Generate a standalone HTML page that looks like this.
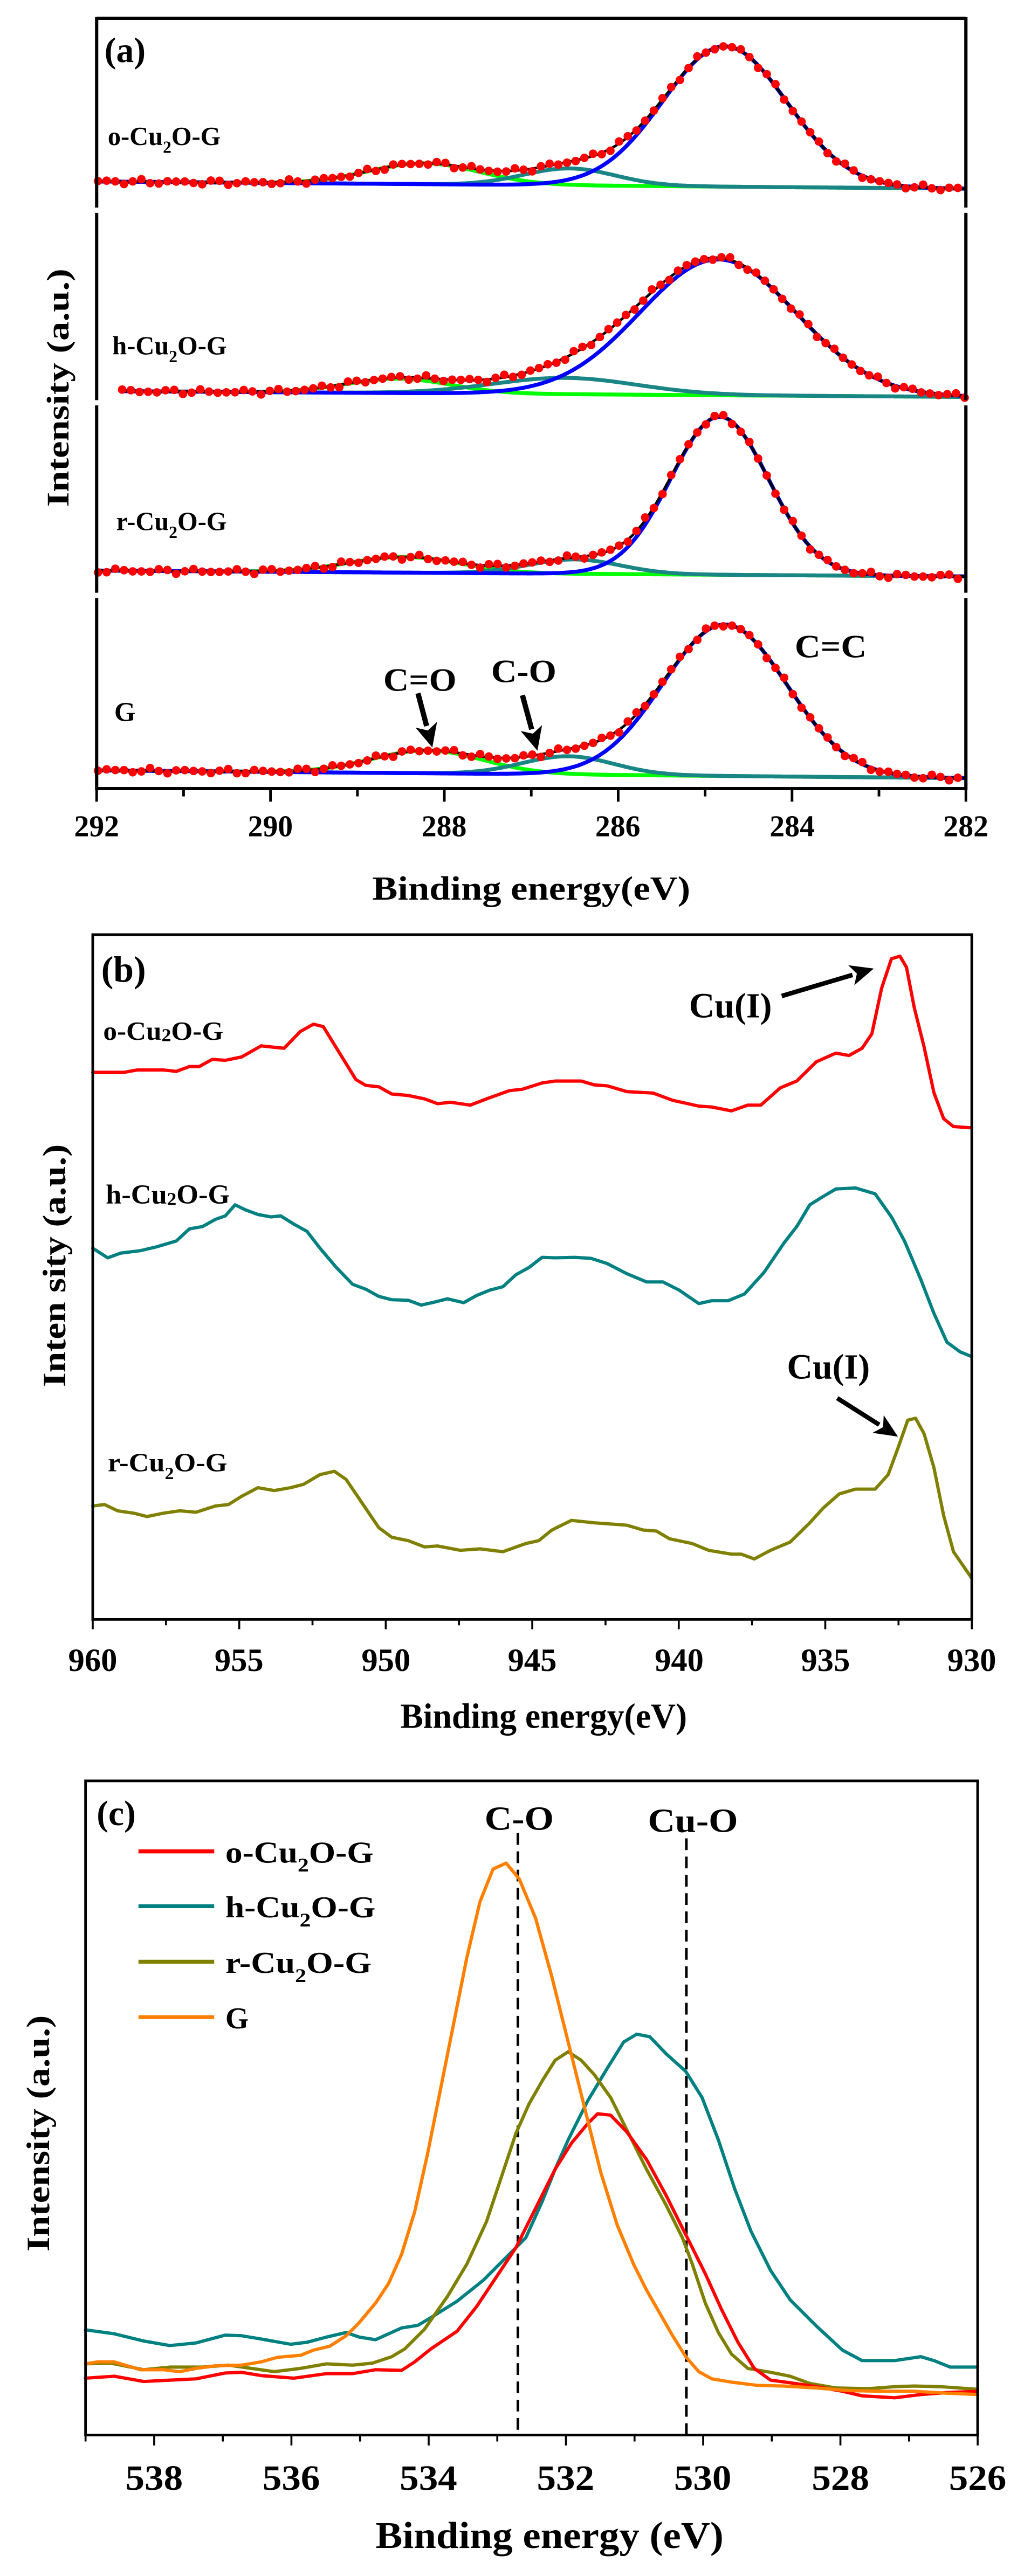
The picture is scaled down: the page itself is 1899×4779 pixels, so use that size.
<!DOCTYPE html>
<html><head><meta charset="utf-8"><style>
html,body{margin:0;padding:0;background:#fff;}
svg{display:block;}
text{font-family:"Liberation Serif",serif;font-weight:bold;fill:#000;}
</style></head><body>
<svg id="s" xmlns="http://www.w3.org/2000/svg" width="1899" height="4779" viewBox="0 0 1899 4779">
<rect width="1899" height="4779" fill="#fff"/>
<!-- Panel A -->
<g id="A" transform="scale(1.2111)">
  <g id="Acurves"></g>
  <g stroke="#000" stroke-width="5" fill="none">
    <line x1="148" y1="28" x2="1479" y2="28"/>
    <line x1="148" y1="1208" x2="1479" y2="1208"/>
    <line x1="148" y1="26" x2="148" y2="318"/><line x1="148" y1="326" x2="148" y2="613"/><line x1="148" y1="621" x2="148" y2="908"/><line x1="148" y1="916" x2="148" y2="1210"/>
    <line x1="1479" y1="26" x2="1479" y2="318"/><line x1="1479" y1="326" x2="1479" y2="613"/><line x1="1479" y1="621" x2="1479" y2="908"/><line x1="1479" y1="916" x2="1479" y2="1210"/>
  </g>
  <g id="Aticks" stroke="#000" stroke-width="4"></g>
  <g font-size="46" text-anchor="middle">
    <text x="148" y="1281">292</text><text x="414" y="1281">290</text><text x="680" y="1281">288</text><text x="946" y="1281">286</text><text x="1213" y="1281">284</text><text x="1479" y="1281">282</text>
  </g>
  <text x="570" y="1378" font-size="52" textLength="487" lengthAdjust="spacingAndGlyphs">Binding energy(eV)</text>
  <text transform="translate(105,594) rotate(-90)" text-anchor="middle" font-size="48" textLength="365" lengthAdjust="spacingAndGlyphs">Intensity (a.u.)</text>
  <text x="160" y="95" font-size="54">(a)</text>
  <text x="165" y="222" font-size="40">o-Cu<tspan font-size="26" dy="12">2</tspan><tspan dy="-12">O-G</tspan></text>
  <text x="172" y="543" font-size="40">h-Cu<tspan font-size="26" dy="12">2</tspan><tspan dy="-12">O-G</tspan></text>
  <text x="178" y="812" font-size="40">r-Cu<tspan font-size="26" dy="12">2</tspan><tspan dy="-12">O-G</tspan></text>
  <text x="175" y="1105" font-size="42">G</text>
  <text x="587" y="1058" font-size="50" textLength="112" lengthAdjust="spacingAndGlyphs">C=O</text>
  <text x="752" y="1045" font-size="50" textLength="100" lengthAdjust="spacingAndGlyphs">C-O</text>
  <text x="1217" y="1007" font-size="50" textLength="110" lengthAdjust="spacingAndGlyphs">C=C</text>
  <g id="Aarrows"></g>
</g>
<!-- Panel B -->
<g id="B" transform="translate(0,1700) scale(1.2111)">
  <g id="Bcurves" fill="none" stroke-width="5" stroke-linejoin="round" stroke-linecap="round"></g>
  <rect x="142" y="28" width="1346" height="1049" fill="none" stroke="#000" stroke-width="4"/>
  <g id="Bticks" stroke="#000" stroke-width="3"></g>
  <g font-size="50" text-anchor="middle">
    <text x="142" y="1156" textLength="75" lengthAdjust="spacingAndGlyphs">960</text>
    <text x="366" y="1156" textLength="75" lengthAdjust="spacingAndGlyphs">955</text>
    <text x="591" y="1156" textLength="75" lengthAdjust="spacingAndGlyphs">950</text>
    <text x="815" y="1156" textLength="75" lengthAdjust="spacingAndGlyphs">945</text>
    <text x="1040" y="1156" textLength="75" lengthAdjust="spacingAndGlyphs">940</text>
    <text x="1264" y="1156" textLength="75" lengthAdjust="spacingAndGlyphs">935</text>
    <text x="1488" y="1156" textLength="75" lengthAdjust="spacingAndGlyphs">930</text>
  </g>
  <text x="613" y="1243" font-size="54" textLength="439" lengthAdjust="spacingAndGlyphs">Binding energy(eV)</text>
  <text transform="translate(100,535) rotate(-90)" text-anchor="middle" font-size="50" textLength="372" lengthAdjust="spacingAndGlyphs">Inten sity (a.u.)</text>
  <text x="155" y="100" font-size="56">(b)</text>
  <text x="158" y="189" font-size="40" textLength="184" lengthAdjust="spacingAndGlyphs">o-Cu<tspan font-size="28" dy="2">2</tspan><tspan dy="-2">O-G</tspan></text>
  <text x="162" y="440" font-size="42" textLength="190" lengthAdjust="spacingAndGlyphs">h-Cu<tspan font-size="28" dy="2">2</tspan><tspan dy="-2">O-G</tspan></text>
  <text x="165" y="850" font-size="40" textLength="183" lengthAdjust="spacingAndGlyphs">r-Cu<tspan font-size="26" dy="12">2</tspan><tspan dy="-12">O-G</tspan></text>
  <text x="1055" y="155" font-size="54" textLength="127" lengthAdjust="spacingAndGlyphs">Cu(I)</text>
  <text x="1205" y="708" font-size="54" textLength="127" lengthAdjust="spacingAndGlyphs">Cu(I)</text>
  <g id="Barrows"></g>
</g>
<!-- Panel C -->
<g id="C" transform="translate(0,2880) scale(1.2111)">
  <g stroke="#000" stroke-width="4" stroke-dasharray="18 10">
    <line x1="793" y1="430" x2="793" y2="1352"/>
    <line x1="1051" y1="438" x2="1051" y2="1352"/>
  </g>
  <g id="Ccurves" fill="none" stroke-width="5" stroke-linejoin="round" stroke-linecap="round"></g>
  <rect x="131" y="350" width="1366" height="1002" fill="none" stroke="#000" stroke-width="4"/>
  <g id="Cticks" stroke="#000" stroke-width="3"></g>
  <g font-size="54" text-anchor="middle">
    <text x="236" y="1436" textLength="88" lengthAdjust="spacingAndGlyphs">538</text>
    <text x="446" y="1436" textLength="88" lengthAdjust="spacingAndGlyphs">536</text>
    <text x="656" y="1436" textLength="88" lengthAdjust="spacingAndGlyphs">534</text>
    <text x="866" y="1436" textLength="88" lengthAdjust="spacingAndGlyphs">532</text>
    <text x="1076" y="1436" textLength="88" lengthAdjust="spacingAndGlyphs">530</text>
    <text x="1287" y="1436" textLength="88" lengthAdjust="spacingAndGlyphs">528</text>
    <text x="1497" y="1436" textLength="88" lengthAdjust="spacingAndGlyphs">526</text>
  </g>
  <text x="575" y="1525" font-size="58" textLength="533" lengthAdjust="spacingAndGlyphs">Binding energy (eV)</text>
  <text transform="translate(75,890) rotate(-90)" text-anchor="middle" font-size="50" textLength="362" lengthAdjust="spacingAndGlyphs">Intensity (a.u.)</text>
  <text x="148" y="418" font-size="54">(c)</text>
  <text x="742" y="425" font-size="52" textLength="106" lengthAdjust="spacingAndGlyphs">C-O</text>
  <text x="992" y="428" font-size="52" textLength="138" lengthAdjust="spacingAndGlyphs">Cu-O</text>
  <g stroke-width="6">
    <line x1="212" y1="458" x2="328" y2="458" stroke="#ff0000"/>
    <line x1="212" y1="542" x2="328" y2="542" stroke="#008080"/>
    <line x1="212" y1="627" x2="328" y2="627" stroke="#808000"/>
    <line x1="212" y1="712" x2="328" y2="712" stroke="#ff8000"/>
  </g>
  <g font-size="46">
    <text x="345" y="475" textLength="227" lengthAdjust="spacingAndGlyphs">o-Cu<tspan font-size="30" dy="14">2</tspan><tspan dy="-14">O-G</tspan></text>
    <text x="345" y="559" textLength="230" lengthAdjust="spacingAndGlyphs">h-Cu<tspan font-size="30" dy="14">2</tspan><tspan dy="-14">O-G</tspan></text>
    <text x="345" y="644" textLength="224" lengthAdjust="spacingAndGlyphs">r-Cu<tspan font-size="30" dy="14">2</tspan><tspan dy="-14">O-G</tspan></text>
    <text x="345" y="729">G</text>
  </g>
</g>
</svg>
<script>
(function(){
var NS="http://www.w3.org/2000/svg";
function el(p,tag,a){var e=document.createElementNS(NS,tag);for(var k in a)e.setAttribute(k,a[k]);p.appendChild(e);return e;}
function pts(arr){return arr.map(function(p){return p[0].toFixed(1)+","+p[1].toFixed(1);}).join(" ");}
function arrow(g,x1,y1,x2,y2,w,hl,hw){
  var dx=x2-x1,dy=y2-y1,L=Math.sqrt(dx*dx+dy*dy),ux=dx/L,uy=dy/L,nx=-uy,ny=ux;
  var bx=x2-ux*hl,by=y2-uy*hl;
  el(g,"line",{x1:x1,y1:y1,x2:bx+ux*2,y2:by+uy*2,stroke:"#000","stroke-width":w});
  el(g,"polygon",{points:pts([[x2,y2],[bx+nx*hw,by+ny*hw],[bx+ux*hl*0.25,by+uy*hl*0.25],[bx-nx*hw,by-ny*hw]]),fill:"#000"});
}
// Panel A
var Ac=document.getElementById("Acurves");
function G(x,c,h,s){return h*Math.exp(-(x-c)*(x-c)/(2*s*s));}
var subs=[
 {b0:278,b1:289,x0:148,P:[1110,215,95],T:[872,26,70],Gr:[650,32,85],ph:0},
 {b0:599,b1:608,x0:185,P:[1100,208,120],T:[865,25,110],Gr:[610,22,80],ph:1.7},
 {b0:874,b1:883,x0:148,P:[1102,242,75],T:[880,22,70],Gr:[620,24,85],ph:3.1},
 {b0:1180,b1:1192,x0:148,P:[1110,232,95],T:[870,28,70],Gr:[655,35,85],ph:4.6}
];
subs.forEach(function(S){
  function base(x){return S.b0+(S.b1-S.b0)*(x-148)/1331;}
  var gr=[],te=[],bl=[],bk=[];
  for(var x=S.x0;x<=1479;x+=3){
    var b=base(x),p=G(x,S.P[0],S.P[1],S.P[2]),t=G(x,S.T[0],S.T[1],S.T[2]),g=G(x,S.Gr[0],S.Gr[1],S.Gr[2]);
    gr.push([x,b-g]);te.push([x,b-t]);bl.push([x,b-p]);bk.push([x,b-p-t-g]);
  }
  el(Ac,"polyline",{points:pts(gr),fill:"none",stroke:"#00ff00","stroke-width":6});
  el(Ac,"polyline",{points:pts(te),fill:"none",stroke:"#1a8585","stroke-width":6});
  el(Ac,"polyline",{points:pts(bl),fill:"none",stroke:"#0000ff","stroke-width":6});
  el(Ac,"polyline",{points:pts(bk),fill:"none",stroke:"#000","stroke-width":4});
  for(var x=S.x0+2;x<=1479;x+=13.3){
    var b=base(x),y=b-G(x,S.P[0],S.P[1],S.P[2])-G(x,S.T[0],S.T[1],S.T[2])-G(x,S.Gr[0],S.Gr[1],S.Gr[2]);
    y+=2.5*Math.sin(x*0.11+S.ph)+1.8*Math.sin(x*0.31+2*S.ph);
    el(Ac,"circle",{cx:x.toFixed(1),cy:y.toFixed(1),r:6.5,fill:"#ff0000"});
  }
});
var At=document.getElementById("Aticks");
for(var i=0;i<=10;i++){var x=148+i*133.1;el(At,"line",{x1:x,y1:1208,x2:x,y2:i%2?1220:1228});}
var Aa=document.getElementById("Aarrows");
arrow(Aa,640,1062,662,1145,8,36,17);
arrow(Aa,800,1065,823,1150,8,36,17);
// Panel B
var Bc=document.getElementById("Bcurves");
function m2(a){return a.map(function(p){return [p[0],165.2+0.738*p[1]];});}
var red=m2([[142,100],[190,100],[210,95],[250,95],[270,98],[290,88],[305,88],[325,73],[345,75],[370,68],[400,45],[420,48],[435,50],[460,15],[480,0],[495,5],[520,60],[545,115],[560,127],[580,130],[600,145],[625,148],[650,155],[670,165],[690,162],[720,168],[745,155],[780,138],[800,135],[830,122],[850,118],[890,118],[910,126],[930,128],[960,140],[1000,143],[1030,158],[1070,170],[1090,172],[1120,180],[1145,168],[1165,168],[1195,132],[1220,118],[1250,78],[1280,60],[1300,65],[1320,50]]).concat([[1335,180],[1350,110],[1365,65],[1378,61],[1388,78],[1400,140],[1415,200],[1430,270],[1445,310],[1460,322],[1488,324]]);
var teal=m2([[142,465],[165,485],[185,475],[215,470],[240,462],[270,450],[290,425],[310,420],[330,405],[345,398],[360,375],[375,385],[395,395],[415,400],[430,398],[450,415],[470,430],[490,465],[515,505],[540,540],[560,550],[580,565],[600,572],[625,573],[645,583],[665,577],[685,570],[710,578],[730,563],[750,552],[770,545],[790,520],[810,505],[830,484],[850,485],[880,484],[905,486],[930,497],[960,518],[990,535],[1015,535],[1040,552],[1070,580],[1090,574],[1115,574],[1140,560],[1170,515],[1200,455],[1220,420],[1240,375],[1260,358],[1280,342],[1310,340],[1340,352],[1365,400],[1385,450],[1410,530],[1430,600],[1450,660],[1470,680],[1488,690]]);
var olive=m2([[142,1000],[160,997],[180,1010],[205,1015],[225,1022],[250,1015],[275,1010],[300,1013],[330,1000],[350,997],[370,980],[395,962],[420,968],[445,962],[465,955],[490,935],[512,928],[530,945],[555,995],[580,1045],[600,1065],[625,1072],[650,1085],[670,1083],[705,1092],[735,1089],[770,1095],[805,1078],[825,1072],[845,1050],[875,1030],[910,1035],[960,1040],[985,1050],[1005,1052],[1025,1068],[1060,1078],[1085,1092],[1120,1100],[1135,1100],[1155,1110],[1180,1092],[1210,1075],[1240,1035],[1260,1005],[1285,975],[1310,965],[1340,965],[1360,935],[1375,880],[1390,822],[1402,818],[1415,850],[1430,920],[1445,1020],[1460,1095],[1488,1150]]);
el(Bc,"polyline",{points:pts(red),stroke:"#ff0000"});
el(Bc,"polyline",{points:pts(teal),stroke:"#008080"});
el(Bc,"polyline",{points:pts(olive),stroke:"#808000"});
var Bt=document.getElementById("Bticks");
for(var i=0;i<=12;i++){var x=142+i*112.17;el(Bt,"line",{x1:x,y1:1077,x2:x,y2:i%2?1086:1092});}
var Ba=document.getElementById("Barrows");
arrow(Ba,1197,122,1338,80,7,36,16);
arrow(Ba,1282,738,1375,797,7,36,16);
// Panel C
var Cc=document.getElementById("Ccurves");
var cO=[[131,1243],[150,1240],[175,1240],[215,1252],[250,1252],[275,1255],[300,1250],[330,1246],[370,1245],[400,1240],[425,1233],[460,1230],[480,1222],[505,1216],[530,1200],[550,1180],[575,1150],[595,1120],[615,1075],[635,1010],[655,920],[675,820],[695,720],[715,620],[735,535],[755,485],[775,476],[795,500],[820,560],[845,650],[870,750],[895,850],[920,950],[945,1030],[970,1090],[990,1130],[1010,1165],[1030,1200],[1050,1232],[1070,1255],[1090,1266],[1120,1271],[1160,1276],[1200,1277],[1250,1280],[1300,1284],[1350,1285],[1400,1285],[1450,1288],[1497,1290]];
var cT=[[131,1191],[175,1197],[220,1208],[260,1215],[300,1211],[345,1199],[370,1200],[400,1205],[445,1213],[470,1210],[500,1202],[530,1195],[550,1202],[575,1206],[615,1188],[640,1184],[660,1172],[700,1147],[740,1115],[780,1075],[805,1050],[830,995],[850,945],[870,900],[900,840],[930,790],[955,750],[975,738],[995,742],[1020,768],[1050,795],[1075,835],[1100,900],[1125,975],[1150,1040],[1180,1100],[1210,1145],[1250,1185],[1290,1222],[1320,1238],[1370,1238],[1410,1232],[1430,1238],[1455,1248],[1497,1248]];
var cR=[[131,1243],[170,1242],[220,1252],[260,1248],[310,1248],[350,1245],[385,1250],[420,1255],[460,1250],[500,1243],[540,1245],[570,1242],[600,1232],[620,1220],[650,1190],[685,1140],[715,1090],[745,1025],[770,950],[790,890],[810,845],[830,810],[850,778],[870,765],[890,778],[910,800],[935,835],[960,885],[990,945],[1020,1000],[1045,1050],[1060,1090],[1080,1150],[1100,1195],[1120,1228],[1145,1250],[1180,1256],[1210,1262],[1240,1273],[1280,1280],[1330,1281],[1370,1278],[1400,1277],[1440,1278],[1497,1282]];
var cRed=[[131,1265],[175,1262],[220,1270],[260,1268],[300,1266],[345,1257],[370,1256],[400,1261],[450,1265],[500,1258],[540,1258],[575,1252],[615,1253],[635,1240],[660,1220],[700,1193],[730,1155],[760,1110],[790,1065],[820,1005],[850,945],[875,905],[900,875],[915,860],[935,862],[960,888],[990,930],[1020,985],[1050,1045],[1080,1105],[1105,1160],[1130,1210],[1155,1250],[1180,1268],[1210,1272],[1250,1278],[1290,1285],[1320,1292],[1370,1295],[1410,1290],[1450,1287],[1497,1285]];
el(Cc,"polyline",{points:pts(cT),stroke:"#008080"});
el(Cc,"polyline",{points:pts(cR),stroke:"#808000"});
el(Cc,"polyline",{points:pts(cRed),stroke:"#ff0000"});
el(Cc,"polyline",{points:pts(cO),stroke:"#ff8000"});
var Ct=document.getElementById("Cticks");
for(var i=0;i<=13;i++){var x=131+i*105.08;el(Ct,"line",{x1:x,y1:1352,x2:x,y2:(i%2)?1368:1362});}
})();
</script>
</body></html>
